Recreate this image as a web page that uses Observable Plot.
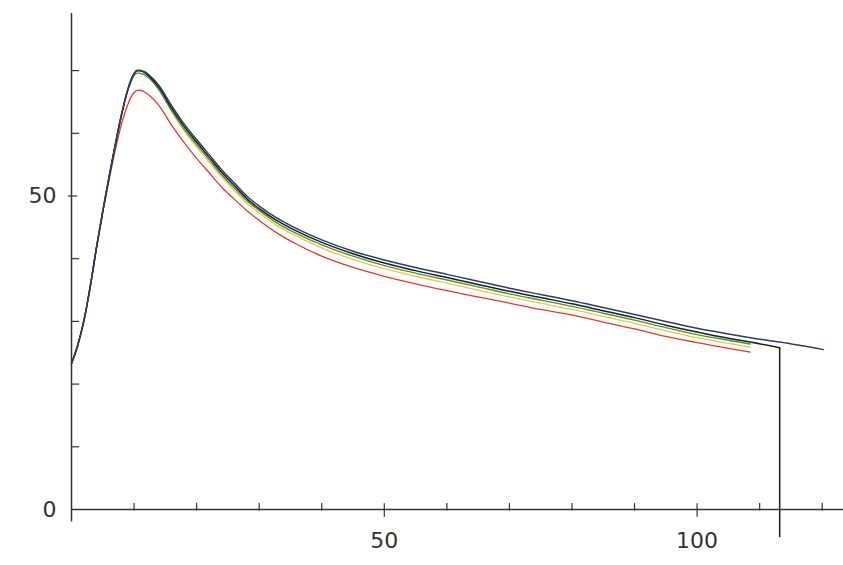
<!DOCTYPE html>
<html>
<head>
<meta charset="utf-8">
<script src="https://cdn.jsdelivr.net/npm/d3@7"></script>
<script src="https://cdn.jsdelivr.net/npm/@observablehq/plot@0.6"></script>
<style>
  html, body { margin: 0; padding: 0; background: #ffffff; }
  #chart { width: 843px; height: 565px; }
</style>
</head>
<body>
<div id="chart"></div>
<script>
// Shared x sample positions (time)
const xs = [0,1,2,3,4,5,6,7,8,9,10,10.6,11.5,12.5,14,16,18,20,22,24,26,28,30,33,36,40,45,50,55,60,65,70,75,80,85,90,95,100,105,108.5,113.2,120.2];

// Series values
const blueVals = [23.3,26.2,30.2,35.6,41.8,47.6,53.0,58.2,63.0,67.0,69.5,70.0,69.9,69.2,67.6,64.4,61.5,59.0,56.6,54.2,52.1,50.0,48.4,46.4,44.8,43.0,41.2,39.8,38.6,37.5,36.4,35.3,34.3,33.3,32.2,31.1,30.0,28.9,28.0,27.4,26.7,25.5];
const blackVals = [23.3,26.2,30.2,35.6,41.8,47.6,53.0,58.2,63.0,67.0,69.5,70.0,69.8,69.0,67.3,64.0,61.1,58.6,56.2,53.8,51.7,49.6,48.0,46.0,44.4,42.6,40.8,39.3,38.1,37.0,35.9,34.8,33.8,32.8,31.7,30.6,29.4,28.3,27.3,26.7,25.8];
const greenVals = [23.3,26.2,30.2,35.6,41.8,47.6,53.0,58.2,63.0,66.8,69.2,69.6,69.4,68.7,66.9,63.6,60.7,58.2,55.8,53.4,51.3,49.3,47.7,45.6,44.0,42.2,40.4,38.9,37.7,36.6,35.5,34.4,33.4,32.4,31.3,30.2,29.0,27.9,27.0,26.4];
const yellowVals = [23.3,26.2,30.2,35.6,41.8,47.6,53.0,58.2,63.0,66.9,69.6,70.2,69.9,69.0,67.0,63.5,60.4,57.8,55.4,53.0,50.9,48.9,47.3,45.2,43.6,41.7,39.9,38.4,37.2,36.1,35.0,33.9,32.9,31.9,30.8,29.7,28.5,27.4,26.5,25.9];
const redVals = [23.3,26.2,30.2,35.6,41.8,47.4,52.5,57.3,61.5,64.6,66.5,66.9,66.7,66.0,64.4,61.3,58.5,56.0,53.7,51.4,49.5,47.7,46.1,44.0,42.3,40.4,38.6,37.2,36.0,34.9,33.9,32.9,31.9,31.0,29.9,28.8,27.6,26.6,25.7,25.1];

// Black series drops vertically at its end to this value
const blackDropBottom = -4.5;

// Axis extents and ticks
const xAxisEnd = 123.4;
const yAxisTop = 79.1;
const yAxisBottom = -2.0;
const xMinorTicks = [10,20,30,40,60,70,80,90,110,120];
const xMajorTicks = [50,100];
const yMinorTicks = [10,20,30,40,60,70];
const yMajorTicks = [50];
const xLabels = [50,100];
const yLabels = [0,50];

const series = [
  {name: "yellow", vals: yellowVals, color: "#e6c64a", w: 1.3},
  {name: "red", vals: redVals, color: "#e5392b", w: 1.3},
  {name: "green", vals: greenVals, color: "#4f8f3a", w: 1.4},
  {name: "black", vals: blackVals, color: "#1f1f1f", w: 1.5},
  {name: "blue", vals: blueVals, color: "#2d3d66", w: 1.5}
];
const toPts = (vals) => vals.map((v, i) => ({x: xs[i], y: v}));

const axisColor = "#333";
const lastBlackX = xs[blackVals.length - 1];
const lastBlackY = blackVals[blackVals.length - 1];

const marks = [
  // axis lines
  Plot.ruleY([0], {x1: 0, x2: xAxisEnd, stroke: axisColor, strokeWidth: 1.5}),
  Plot.ruleX([0], {y1: yAxisBottom, y2: yAxisTop, stroke: axisColor, strokeWidth: 1.5}),
  // x ticks
  Plot.ruleX(xMinorTicks, {y1: -0.25, y2: 0.95, stroke: axisColor, strokeWidth: 1.2}),
  Plot.ruleX(xMajorTicks, {y1: -1.25, y2: 0.9, stroke: axisColor, strokeWidth: 1.2}),
  // y ticks
  Plot.ruleY(yMinorTicks, {x1: 0, x2: 1.3, stroke: axisColor, strokeWidth: 1.2}),
  Plot.ruleY(yMajorTicks, {x1: -0.5, x2: 1.0, stroke: axisColor, strokeWidth: 1.2}),
  // labels
  Plot.axisX(xLabels, {tickSize: 0, tickPadding: 23, fontSize: 22, color: axisColor, label: null}),
  Plot.axisY(yLabels, {tickSize: 0, tickPadding: 15, fontSize: 22, color: axisColor, label: null}),
  // curves
  ...series.map(s => Plot.line(toPts(s.vals), {x: "x", y: "y", stroke: s.color, strokeWidth: s.w, curve: "monotone-x"})),
  // black vertical drop at the end
  Plot.ruleX([lastBlackX], {y1: lastBlackY, y2: blackDropBottom, stroke: "#1f1f1f", strokeWidth: 1.5})
];

const chart = Plot.plot({
  width: 843,
  height: 565,
  marginLeft: 71,
  marginRight: 0,
  marginTop: 0,
  marginBottom: 56,
  x: {domain: [0, xAxisEnd]},
  y: {domain: [0, 81.18]},
  style: {background: "#ffffff", fontFamily: "DejaVu Sans, sans-serif", overflow: "visible"},
  marks
});
document.getElementById("chart").appendChild(chart);
</script>
</body>
</html>
